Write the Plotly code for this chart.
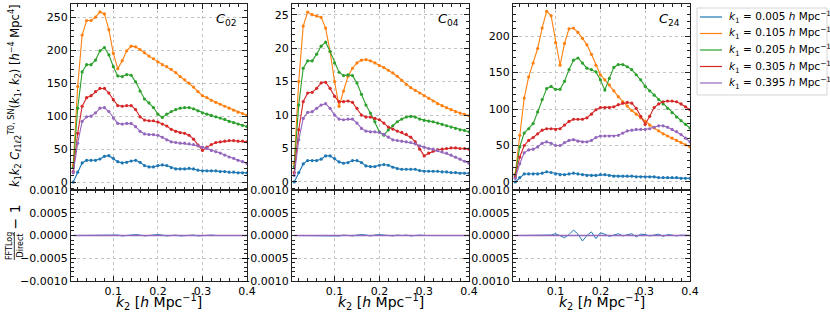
import plotly.graph_objects as go

# ---------------- data ----------------
k2 = [0.01, 0.02, 0.03, 0.04, 0.05, 0.06, 0.07, 0.08, 0.09, 0.10,
      0.11, 0.12, 0.13, 0.14, 0.15, 0.16, 0.17, 0.18, 0.19, 0.20,
      0.21, 0.22, 0.23, 0.24, 0.25, 0.26, 0.27, 0.28, 0.29, 0.30,
      0.31, 0.32, 0.33, 0.34, 0.35, 0.36, 0.37, 0.38, 0.39, 0.40]

k1_labels = ["0.005", "0.105", "0.205", "0.305", "0.395"]
colors = ["#1f77b4", "#ff7f0e", "#2ca02c", "#d62728", "#9467bd"]
panel_names = ["02", "04", "24"]

# C02
c02_k005 = [0, 15, 29, 33, 33, 33, 35, 39, 40, 36, 31, 29, 30, 32, 33, 30, 25, 23, 23, 25,
            26, 25, 22, 20, 20, 20, 21, 20, 18, 17, 17, 17, 17, 16, 16, 15, 15, 14, 14, 14]
c02_k105 = [26, 145, 223, 245, 245, 250, 258, 255, 231, 195, 172, 184, 199, 206, 205, 201, 196, 191, 187, 182,
            178, 175, 171, 166, 160, 155, 150, 144, 137, 131, 128, 124, 121, 118, 115, 112, 109, 106, 104, 101]
c02_k205 = [22, 112, 167, 178, 178, 185, 199, 204, 193, 175, 161, 160, 163, 162, 152, 138, 126, 120, 113, 103,
            98, 103, 107, 110, 112, 113, 113, 111, 108, 105, 103, 101, 99, 97, 95, 92, 90, 88, 86, 84]
c02_k305 = [16, 74, 115, 128, 131, 137, 142, 142, 135, 125, 116, 115, 116, 116, 110, 99, 94, 93, 93, 91,
            88, 85, 80, 77, 75, 74, 71, 65, 56, 48, 53, 57, 60, 61, 62, 63, 63, 62, 62, 61]
c02_k395 = [14, 59, 92, 99, 100, 105, 112, 113, 107, 97, 89, 88, 89, 89, 84, 77, 73, 72, 72, 71,
            68, 64, 61, 60, 59, 59, 58, 57, 55, 53, 51, 48, 46, 44, 41, 38, 36, 33, 31, 28]

# C04
c04_k005 = [0, 1.4, 2.7, 3.2, 3.2, 3.2, 3.4, 3.9, 3.9, 3.5, 3.0, 2.8, 2.9, 3.2, 3.2, 2.9, 2.4, 2.3, 2.3, 2.5,
            2.6, 2.5, 2.2, 2.0, 1.9, 1.9, 1.9, 1.9, 1.7, 1.6, 1.6, 1.6, 1.6, 1.5, 1.5, 1.4, 1.4, 1.3, 1.3, 1.3]
c04_k105 = [2.8, 15.0, 23.3, 25.4, 25.0, 24.8, 24.6, 23.0, 19.5, 15.0, 11.3, 13.6, 15.8, 17.0, 17.8, 18.2, 18.3, 18.1, 17.8, 17.4,
            17.1, 16.7, 16.3, 15.8, 15.2, 14.6, 14.1, 13.7, 13.3, 12.9, 12.5, 12.1, 11.7, 11.4, 11.1, 10.8, 10.5, 10.3, 10.1, 9.9]
c04_k205 = [2.3, 11.5, 17.0, 18.1, 18.1, 19.1, 20.3, 20.9, 19.5, 17.8, 16.4, 15.9, 16.0, 15.9, 14.8, 13.1, 11.5, 10.3, 9.0, 7.5,
            7.0, 7.8, 8.4, 9.0, 9.4, 9.7, 9.8, 9.7, 9.4, 9.2, 9.1, 9.0, 8.8, 8.6, 8.4, 8.2, 8.0, 7.8, 7.7, 7.5]
c04_k305 = [1.4, 7.8, 12.0, 13.3, 13.4, 14.0, 14.8, 14.9, 14.0, 12.8, 12.0, 12.0, 12.1, 11.9, 11.0, 10.0, 9.7, 9.7, 9.5, 9.3,
            8.8, 8.2, 7.9, 7.6, 7.4, 7.1, 6.7, 6.0, 4.9, 3.9, 4.3, 4.6, 4.8, 4.9, 5.0, 5.1, 5.1, 5.0, 5.0, 4.9]
c04_k395 = [1.0, 6.3, 9.5, 10.4, 10.5, 11.0, 11.5, 11.7, 11.0, 10.0, 9.4, 9.3, 9.4, 9.4, 8.8, 8.0, 7.6, 7.5, 7.5, 7.4,
            7.1, 6.7, 6.3, 6.2, 6.1, 6.0, 5.9, 5.7, 5.4, 5.2, 5.0, 4.9, 4.7, 4.5, 4.3, 4.0, 3.7, 3.4, 3.1, 2.8]

# C24
c24_k005 = [0, 6, 11, 11, 11, 11, 12, 14, 13, 11, 10, 10, 11, 12, 11, 10, 9, 9, 9, 10,
            10, 9, 8, 8, 8, 8, 8, 7, 7, 7, 7, 7, 6, 6, 6, 6, 6, 5, 5, 5]
c24_k105 = [11, 64, 115, 144, 163, 183, 211, 234, 228, 191, 160, 190, 210, 211, 205, 197, 188, 175, 160, 147,
            140, 133, 125, 117, 110, 104, 98, 93, 88, 83, 78, 74, 70, 66, 63, 60, 57, 54, 51, 48]
c24_k205 = [9, 48, 67, 73, 80, 96, 113, 128, 131, 127, 127, 138, 154, 167, 170, 163, 156, 154, 151, 140,
            126, 142, 157, 161, 161, 158, 154, 147, 140, 131, 125, 119, 113, 107, 101, 95, 89, 84, 79, 74]
c24_k305 = [7, 34, 50, 57, 61, 66, 71, 73, 73, 72, 73, 78, 83, 86, 86, 86, 88, 93, 99, 102,
            102, 102, 103, 106, 108, 109, 108, 101, 90, 79, 90, 102, 107, 110, 111, 111, 110, 107, 103, 99]
c24_k395 = [5, 25, 40, 44, 45, 48, 53, 55, 53, 50, 50, 54, 57, 58, 56, 55, 55, 57, 61, 63,
            63, 63, 63, 64, 67, 70, 71, 72, 72, 72, 73, 75, 77, 77, 75, 72, 69, 65, 60, 55]

# residuals FFTLog/Direct - 1
res_zero = [0.0, 0.0, 0.0, 0.0, 0.0, 0.0, 0.0, 0.0, 0.0, 0.0,
            0.0, 0.0, 0.0, 0.0, 0.0, 0.0, 0.0, 0.0, 0.0, 0.0,
            0.0, 0.0, 0.0, 0.0, 0.0, 0.0, 0.0, 0.0, 0.0, 0.0,
            0.0, 0.0, 0.0, 0.0, 0.0, 0.0, 0.0, 0.0, 0.0, 0.0]
res_c02_k005 = [0, 0, 0, 0, 0, 0, 0, 0, 0, 0,
                0.00001, -0.00001, 0, 0.00001, 0.00002, 0.00001, -0.00001, 0, 0.00001, 0.00002,
                0.00001, -0.00001, 0, 0.00001, -0.00001, 0, 0.00001, 0.00001, -0.00001, 0,
                0, 0.00001, 0, 0, 0, 0, 0, 0, 0, 0]
res_c04_k005 = [0, 0, 0, 0, 0, 0, 0, 0, 0, 0,
                -0.00001, 0.00001, 0, -0.00001, 0.00001, 0.00002, 0.00001, -0.00001, 0.00001, 0.00002,
                0.00001, 0, -0.00001, 0.00001, 0, 0.00001, -0.00001, 0, 0.00001, 0,
                0, 0, 0.00001, 0, 0, 0, 0, 0, 0, 0]
res_c24_k005 = [0, 0, 0, 0, 0, 0, 0, 0, 0.00001, 0.00004,
                0.0, -0.00005, 0.00002, 0.00012, 0.00003, -0.00012, 0.0, 0.00008, -0.00007, 0.00006,
                0.00003, -0.00002, 0.00001, 0.00004, -0.00001, 0.00001, 0.00004, -0.00003, 0.00003, 0.00002,
                -0.00001, 0.00001, 0.00003, -0.00002, 0.00002, 0.00001, -0.00001, 0.00001, 0.0, 0.0]
res_c24_k305 = [0, 0, 0, 0, 0, 0, 0, 0, 0, 0,
                0, 0, 0, 0, 0, 0, 0, 0, 0, 0,
                0, 0, 0, 0, 0, 0, 0, 0, 0, 0,
                0, 0, 0, 0, 0, 0, 0, -0.00001, -0.00001, 0]

top_data = [
    [c02_k005, c02_k105, c02_k205, c02_k305, c02_k395],
    [c04_k005, c04_k105, c04_k205, c04_k305, c04_k395],
    [c24_k005, c24_k105, c24_k205, c24_k305, c24_k395],
]
res_data = [
    [res_c02_k005, res_zero, res_zero, res_zero, res_zero],
    [res_c04_k005, res_zero, res_zero, res_zero, res_zero],
    [res_c24_k005, res_zero, res_zero, res_c24_k305, res_zero],
]
top_ranges = [[-12, 270], [-1.2, 26.6], [-11, 244]]
top_dtick = [50, 5, 50]
top_minor = [10, 1, 10]

# ---------------- layout geometry ----------------
W, H = 830, 315
FONT = "DejaVu Sans"
panel_px = [(71, 247), (292, 469), (513, 690)]
top_px = (4, 190)
bot_px = (190, 281)


def fx(p):
    return p / W


def fy(p):
    return 1 - p / H


fig = go.Figure()

for p in range(3):
    xa_top = "x" if p == 0 else f"x{p + 1}"
    ya_top = "y" if p == 0 else f"y{p + 1}"
    xa_bot = f"x{p + 4}"
    ya_bot = f"y{p + 4}"
    for s in range(5):
        fig.add_trace(go.Scatter(
            x=k2, y=top_data[p][s], xaxis=xa_top, yaxis=ya_top,
            mode="lines+markers", line=dict(color=colors[s], width=1.1),
            marker=dict(size=3.2, color=colors[s]), showlegend=False,
            hoverinfo="skip"))
    for s in range(5):
        fig.add_trace(go.Scatter(
            x=k2, y=res_data[p][s], xaxis=xa_bot, yaxis=ya_bot,
            mode="lines", line=dict(color=colors[s], width=1.0 if s < 4 else 1.3),
            showlegend=False, hoverinfo="skip"))


def axis_common():
    return dict(
        showline=True, linecolor="#222", linewidth=1.2, mirror="allticks",
        ticks="inside", ticklen=5, tickwidth=1, tickcolor="#222",
        showgrid=True, gridcolor="#c4c4c4", griddash="dot", gridwidth=1,
        zeroline=False, automargin=False,
        tickfont=dict(family=FONT, size=11, color="black"),
    )


layout = dict(
    width=W, height=H, margin=dict(l=0, r=0, t=0, b=0),
    paper_bgcolor="white", plot_bgcolor="white", showlegend=False,
    font=dict(family=FONT, color="black"),
)

for p in range(3):
    x0, x1 = panel_px[p]
    ax = axis_common()
    ax.update(domain=[fx(x0), fx(x1)], range=[0.005, 0.4],
              tickvals=[0.1, 0.2, 0.3, 0.4], showticklabels=False,
              anchor="y" if p == 0 else f"y{p + 1}",
              minor=dict(ticks="inside", ticklen=2.5, tickcolor="#222", dtick=0.02, tick0=0, showgrid=False))
    layout["xaxis" if p == 0 else f"xaxis{p + 1}"] = ax
    ay = axis_common()
    ay.update(domain=[fy(top_px[1]), fy(top_px[0])], range=top_ranges[p],
              dtick=top_dtick[p], tick0=0,
              anchor="x" if p == 0 else f"x{p + 1}",
              minor=dict(ticks="inside", ticklen=2.5, tickcolor="#222", dtick=top_minor[p], tick0=0, showgrid=False))
    layout["yaxis" if p == 0 else f"yaxis{p + 1}"] = ay
    bx = axis_common()
    bx.update(domain=[fx(x0), fx(x1)], range=[0.005, 0.4],
              tickvals=[0.1, 0.2, 0.3, 0.4], ticktext=["0.1", "0.2", "0.3", "0.4"],
              anchor=f"y{p + 4}",
              minor=dict(ticks="inside", ticklen=2.5, tickcolor="#222", dtick=0.02, tick0=0, showgrid=False))
    layout[f"xaxis{p + 4}"] = bx
    by = axis_common()
    by.update(domain=[fy(bot_px[1]), fy(bot_px[0])], range=[-0.001, 0.001],
              tickvals=[-0.001, -0.0005, 0, 0.0005, 0.001], tickformat=".4f",
              anchor=f"x{p + 4}",
              minor=dict(ticks="inside", ticklen=2.5, tickcolor="#222", dtick=0.0001, tick0=0, showgrid=False))
    layout[f"yaxis{p + 4}"] = by

fig.update_layout(**layout)

annotations = []
shapes = []

for p in range(3):
    annotations.append(dict(
        text=f"<i>C</i><sub>{panel_names[p]}</sub>", x=fx(panel_px[p][1] - 8), y=fy(19),
        xref="paper", yref="paper", xanchor="right", yanchor="middle",
        showarrow=False, font=dict(family=FONT, size=13, color="black")))
    annotations.append(dict(
        text="<i>k</i><sub>2</sub> [<i>h</i> Mpc<sup>−1</sup>]",
        x=fx((panel_px[p][0] + panel_px[p][1]) / 2), y=fy(302),
        xref="paper", yref="paper", xanchor="center", yanchor="middle",
        showarrow=False, font=dict(family=FONT, size=14, color="black")))

annotations.append(dict(
    text="<i>k</i><sub>1</sub><i>k</i><sub>2</sub> <i>C</i><sub>ℓ1ℓ2</sub><sup><i>T</i>0, SN</sup>"
         "(<i>k</i><sub>1</sub>, <i>k</i><sub>2</sub>) [<i>h</i><sup>−4</sup> Mpc<sup>4</sup>]",
    x=fx(15), y=fy(96), xref="paper", yref="paper", xanchor="center", yanchor="middle",
    textangle=-90, showarrow=False, font=dict(family=FONT, size=11.5, color="black")))

annotations.append(dict(text="FFTLog", x=fx(9), y=fy(246), xref="paper", yref="paper",
                        xanchor="center", yanchor="middle", textangle=-90, showarrow=False,
                        font=dict(family=FONT, size=8, color="black")))
annotations.append(dict(text="Direct", x=fx(19.5), y=fy(246), xref="paper", yref="paper",
                        xanchor="center", yanchor="middle", textangle=-90, showarrow=False,
                        font=dict(family=FONT, size=8, color="black")))
annotations.append(dict(text="− 1", x=fx(14.5), y=fy(217), xref="paper", yref="paper",
                        xanchor="center", yanchor="middle", textangle=-90, showarrow=False,
                        font=dict(family=FONT, size=14, color="black")))
shapes.append(dict(type="line", xref="paper", yref="paper", x0=fx(14.3), x1=fx(14.3),
                   y0=fy(232), y1=fy(260), line=dict(color="black", width=0.8)))

lx0, ly0, lx1, ly1 = 697, 8, 827, 95
shapes.append(dict(type="rect", xref="paper", yref="paper", x0=fx(lx0), x1=fx(lx1),
                   y0=fy(ly1), y1=fy(ly0), line=dict(color="#d5d5d5", width=1),
                   fillcolor="white"))
row_y = [17, 33.5, 50, 66.5, 83]
for s in range(5):
    shapes.append(dict(type="line", xref="paper", yref="paper", x0=fx(700), x1=fx(722),
                       y0=fy(row_y[s]), y1=fy(row_y[s]),
                       line=dict(color=colors[s], width=1.2)))
    annotations.append(dict(
        text=f"<i>k</i><sub>1</sub> = {k1_labels[s]} <i>h</i> Mpc<sup>−1</sup>",
        x=fx(727), y=fy(row_y[s]), xref="paper", yref="paper", xanchor="left", yanchor="middle",
        showarrow=False, font=dict(family=FONT, size=10.5, color="black")))

fig.update_layout(annotations=annotations, shapes=shapes)
fig.write_html("out.html", config={"displayModeBar": False},
               post_script="document.body.style.margin='0';document.body.style.overflow='hidden';")
